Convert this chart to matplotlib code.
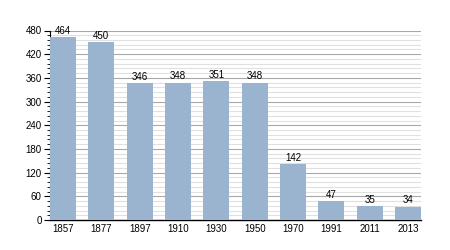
import matplotlib
matplotlib.use('Agg')
import matplotlib.pyplot as plt
from matplotlib.ticker import MultipleLocator

years = ['1857', '1877', '1897', '1910', '1930', '1950', '1970', '1991', '2011', '2013']
population = [464, 450, 346, 348, 351, 348, 142, 47, 35, 34]

plt.rcParams['font.family'] = ['Liberation Sans', 'DejaVu Sans']

fig = plt.figure(figsize=(4.5, 2.5), dpi=100)
ax = fig.add_axes([0.111, 0.12, 0.825, 0.758])

w = 0.68
x = list(range(len(years)))
bars = ax.bar(x, population, width=w, color='#9ab3ce', zorder=3)
for xi, v in zip(x, population):
    ax.text(xi, v + 3, str(v), ha='center', va='bottom', fontsize=7, zorder=4)

ax.set_xlim(-w / 2, len(years) - 1 + w / 2)
ax.set_ylim(0, 480)
ax.set_xticks(x)
ax.set_xticklabels(years)
ax.yaxis.set_major_locator(MultipleLocator(60))
ax.yaxis.set_minor_locator(MultipleLocator(12))
ax.grid(axis='y', which='major', color='#a8a8a8', linewidth=0.8, zorder=0)
ax.grid(axis='y', which='minor', color='#e0e0e0', linewidth=0.8, zorder=0)
ax.tick_params(axis='x', length=0, labelsize=7, pad=3)
ax.tick_params(axis='y', which='major', length=4, width=0.8, labelsize=7, pad=2)
ax.tick_params(axis='y', which='minor', length=2, width=0.6)
for s in ['top', 'right']:
    ax.spines[s].set_visible(False)
ax.spines['left'].set_linewidth(0.8)
ax.spines['bottom'].set_linewidth(1.0)

fig.savefig('out.png', dpi=100)
